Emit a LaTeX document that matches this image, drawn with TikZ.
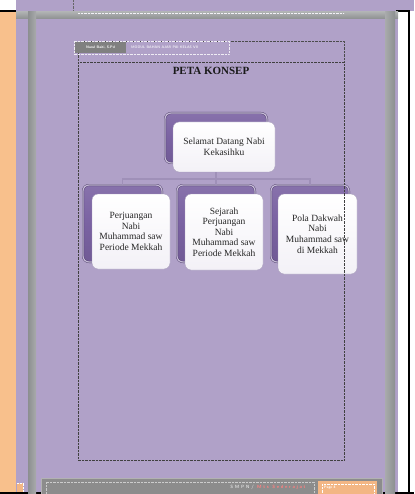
\documentclass[tikz,border=0pt]{standalone}
\usepackage{fontspec}
\setmainfont{Liberation Serif}
\usepackage{xcolor}
\usetikzlibrary{positioning}

\definecolor{pagebg}{HTML}{B0A1C8}
\definecolor{edgeorange}{HTML}{F8C08C}
\definecolor{framegrey}{HTML}{8C8F90}
\definecolor{backpurple}{HTML}{7A62A2}
\definecolor{frontedge}{HTML}{A79CBB}
\definecolor{linkpurple}{HTML}{9F90B8}
\definecolor{tagorange}{HTML}{F3B684}

\begin{document}
\begin{tikzpicture}[x=1pt, y=-1pt,
    backbox/.style={draw=backpurple!65!black, double=backpurple!45!white, double distance=1.2pt, rounded corners=6pt, top color=backpurple!90!white, bottom color=backpurple!92!black, middle color=backpurple, inner sep=0pt},
    frontbox/.style={draw=frontedge, rounded corners=6pt, top color=white, bottom color=pagebg!15!white, inner sep=1pt, align=center, text=black!85, font=\fontsize{9.5}{10.5}\selectfont},
    link/.style={draw=linkpurple, line width=1.4pt},
    tinytext/.style={inner sep=0pt, font=\fontsize{3.6}{4}\selectfont\sffamily\bfseries},
    foottext/.style={inner sep=0pt, font=\fontsize{4.6}{5}\selectfont\sffamily\bfseries}]
    \useasboundingbox (0,0) rectangle (414,494);

    % Page and frame
    \fill[white] (0,0) rectangle (414,494);
    \fill[pagebg] (16,0) rectangle (414,11); % strip above the page
    \fill[pagebg] (16,11) rectangle (398,494); % the page
    \fill[edgeorange] (0,12) rectangle (15.5,494); % orange margin on the left
    \draw[black, line width=1.2pt] (0,11) -- (16,11);
    \draw[black, line width=1.2pt] (396,11) -- (409,11) -- (409,494);
    \draw[black, line width=1.5pt] (0,493) -- (414,493);
    \shade[top color=framegrey!70, bottom color=framegrey] (16,12) rectangle (398,19); % top bar of the frame
    \shade[left color=framegrey, right color=framegrey!75] (28,12) rectangle (36,494); % left bar
    \shade[left color=framegrey!75, right color=framegrey] (385,12) rectangle (395,494); % right bar
    \draw[black!60, densely dotted] (73,0) -- (73,10);
    \draw[white!85!pagebg, densely dotted] (78,13) -- (344,13);

    % Header
    \draw[black!70, densely dotted] (78,62) -- (78,41) -- (344,41) -- (344,62);
    \fill[black!50] (75,42) rectangle (126,53); % tag with the author
    \node (author) [tinytext, text=white] at (100.5,47.5) {Nurul Baiti, S.Pd};
    \node (modul) [tinytext, text=white!80!pagebg, anchor=west] at (131,47.5) {MODUL BAHAN AJAR PAI KELAS VII};
    \draw[white!80!pagebg, densely dotted] (74,41) rectangle (229,54);

    % Title
    \node (title) [font=\fontsize{11}{12}\selectfont\bfseries, text=black!90] at (211,71) {PETA KONSEP};

    % Nodes
    \node (topback) [backbox, minimum width=102pt, minimum height=50pt] at (216,138) {}; % shadow of the main topic
    \node (leftback) [backbox, minimum width=79pt, minimum height=77pt] at (122.5,223.5) {};
    \node (midback) [backbox, minimum width=78pt, minimum height=77pt] at (216,223.5) {};
    \node (rightback) [backbox, minimum width=78pt, minimum height=77pt] at (310,223.5) {};
    \node (top) [frontbox, minimum width=102pt, minimum height=50pt] at (224,147) {Selamat Datang Nabi\\Kekasihku}; % main topic
    \node (left) [frontbox, minimum width=78pt, minimum height=75pt] at (131,231.5) {Perjuangan\\Nabi\\Muhammad saw\\Periode Mekkah};
    \node (mid) [frontbox, minimum width=78pt, minimum height=76pt] at (224,232) {Sejarah\\Perjuangan\\Nabi\\Muhammad saw\\Periode Mekkah};
    \node (right) [frontbox, minimum width=79pt, minimum height=80pt] at (317.5,234) {Pola Dakwah\\Nabi\\Muhammad saw\\di Mekkah};

    % Connectors
    \coordinate (bar) at (216,179);
    \draw[link] (topback.south |- top.south) -- (bar);
    \draw[link] (bar) -| (leftback.north);
    \draw[link] (bar) -- (midback.north);
    \draw[link] (bar) -| (rightback.north);

    % Content box, over the boxes
    \draw[black!75, densely dotted] (78,62) rectangle (344,460);

    % Footer
    \fill[black!45] (41,478) rectangle (382,494);
    \draw[black!30] (41,478) rectangle (382,494);
    \draw[white!80!black, densely dotted] (46,482) rectangle (314,494);
    \node (school) [foottext, text=white!85!black, anchor=east] at (254,487.5) {S M P N /};
    \node (level) [foottext, text=red!50!white, anchor=west] at (257,487.5) {M t s\ \ S e d e r a j a t};
    \fill[tagorange] (318,481) rectangle (377,494);
    \draw[white, densely dotted] (322,484) rectangle (374,494);
    \node (page) [tinytext, text=white, anchor=west] at (324,488) {Page 4};
    \fill[tagorange] (17,483) rectangle (23,492);
    \draw[white, densely dotted] (17,483) -- (23,483) -- (23,492);
\end{tikzpicture}
\end{document}
